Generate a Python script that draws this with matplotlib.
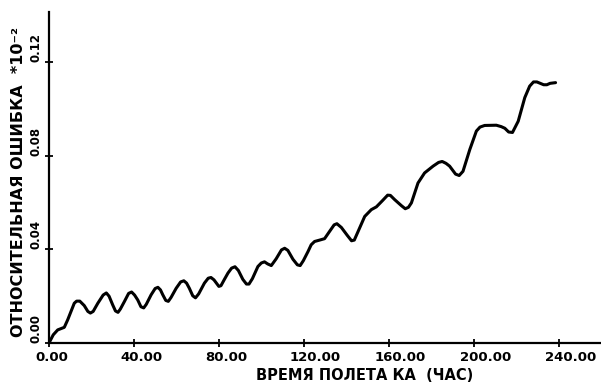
import matplotlib
matplotlib.use("Agg")
import matplotlib.pyplot as plt
import matplotlib.transforms as mtransforms

# flight time (hours) and relative error
hours = [0.0, 2.0, 4.1, 7.2, 8.8, 11.9, 13.0, 14.5, 16.6, 18.3, 19.5, 20.8,
         23.0, 25.5, 27.0, 28.3, 30.0, 31.3, 32.5, 33.6, 35.5, 37.5, 38.9,
         40.3, 41.8, 43.3, 44.6, 45.8, 48.1, 50.0, 51.3, 52.5, 53.6, 55.0,
         56.2, 57.5, 59.9, 62.0, 63.5, 64.8, 66.1, 67.7, 69.0, 70.5, 73.2,
         75.0, 76.3, 77.7, 80.0, 81.0, 82.5, 84.3, 86.0, 87.6, 89.2, 91.3,
         93.0, 94.2, 95.8, 98.4, 100.0, 101.5, 103.0, 104.7, 107.0, 109.5,
         111.0, 112.5, 114.9, 117.0, 118.3, 119.8, 122.0, 123.5, 125.1,
         127.5, 129.8, 132.0, 134.3, 135.6, 137.7, 140.5, 142.5, 143.8,
         145.5, 148.7, 151.8, 154.2, 157.0, 159.5, 160.8, 162.8, 166.0,
         167.8, 169.3, 170.7, 173.8, 176.9, 180.9, 183.5, 185.2, 187.0,
         188.7, 191.5, 193.2, 195.0, 198.2, 201.3, 203.0, 205.2, 210.7,
         213.0, 214.7, 216.5, 218.3, 221.0, 224.1, 226.4, 228.2, 229.8,
         233.0, 234.5, 236.0, 238.6]
rel_error = [0.0, 0.0035, 0.0056, 0.0067, 0.0099, 0.0170, 0.0179, 0.0179,
             0.0160, 0.0135, 0.0128, 0.0135, 0.0170, 0.0205, 0.0214, 0.0200,
             0.0163, 0.0137, 0.0131, 0.0145, 0.0177, 0.0212, 0.0218, 0.0205,
             0.0184, 0.0155, 0.0150, 0.0165, 0.0206, 0.0233, 0.0238, 0.0227,
             0.0206, 0.0182, 0.0178, 0.0195, 0.0234, 0.0261, 0.0266, 0.0256,
             0.0234, 0.0202, 0.0193, 0.0210, 0.0256, 0.0277, 0.0280, 0.0270,
             0.0242, 0.0245, 0.0270, 0.0299, 0.0320, 0.0326, 0.0310, 0.0272,
             0.0252, 0.0252, 0.0275, 0.0327, 0.0342, 0.0347, 0.0338, 0.0331,
             0.0360, 0.0398, 0.0405, 0.0396, 0.0358, 0.0334, 0.0331, 0.0352,
             0.0391, 0.0420, 0.0434, 0.0440, 0.0446, 0.0475, 0.0505, 0.0510,
             0.0494, 0.0460, 0.0437, 0.0440, 0.0475, 0.0541, 0.0570, 0.0582,
             0.0608, 0.0632, 0.0631, 0.0613, 0.0587, 0.0574, 0.0580, 0.0599,
             0.0684, 0.0727, 0.0756, 0.0772, 0.0776, 0.0768, 0.0756, 0.0722,
             0.0716, 0.0734, 0.0827, 0.0906, 0.0923, 0.0930, 0.0931, 0.0925,
             0.0918, 0.0902, 0.0900, 0.0948, 0.1049, 0.1098, 0.1116, 0.1116,
             0.1104, 0.1104, 0.1110, 0.1113]

xticks = [0, 40, 80, 120, 160, 200, 240]
xticklabels = ["0.00", "40.00", "80.00", "120.00", "160.00", "200.00", "240.00"]
yticks = [0.0, 0.04, 0.08, 0.12]
yticklabels = ["0.00", "0.04", "0.08", "0.12"]

fig = plt.figure(figsize=(6.01, 3.83), dpi=100)
ax = fig.add_axes([49 / 601, 40 / 383, 1 - 49 / 601, 1 - 52 / 383])

ax.plot(hours, rel_error, color="black", lw=2.2, solid_joinstyle="round",
        solid_capstyle="round")

ax.set_xlim(0, 260)
ax.set_ylim(0, 0.1415)
for s in ["top", "right"]:
    ax.spines[s].set_visible(False)
for s in ["left", "bottom"]:
    ax.spines[s].set_linewidth(1.6)

ax.set_xticks(xticks)
ax.set_xticklabels(xticklabels, fontsize=9.5, fontweight="bold")
ax.set_yticks(yticks)
ax.set_yticklabels(yticklabels, fontsize=8.5, fontweight="bold", rotation=90,
                   va="bottom")
ax.tick_params(axis="both", direction="inout", length=6, width=1.3)
ax.tick_params(axis="x", pad=3)
ax.tick_params(axis="y", pad=2)

# x labels start a bit left of their tick, as on the plotter output
offset = mtransforms.ScaledTranslation(-10 / 72, 0, fig.dpi_scale_trans)
for lab in ax.get_xticklabels():
    lab.set_ha("left")
    lab.set_transform(lab.get_transform() + offset)

fig.text(365 / 601, 1 - 376 / 383, "ВРЕМЯ ПОЛЕТА КА  (ЧАС)", ha="center",
         va="center", fontsize=10.5, fontweight="bold")
fig.text(19 / 601, 1 - 182 / 383, "ОТНОСИТЕЛЬНАЯ ОШИБКА  *10⁻²", rotation=90,
         ha="center", va="center", fontsize=11.5, fontweight="bold")

plt.savefig("out.png", dpi=100)
